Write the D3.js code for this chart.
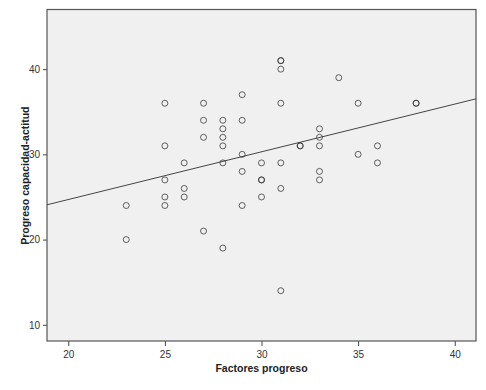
<!DOCTYPE html>
<html>
<head>
<meta charset="utf-8">
<script src="https://cdn.jsdelivr.net/npm/d3@7"></script>
<style>
  body { margin: 0; background: #fff; }
  svg { display: block; font-family: "Liberation Sans", Arial, sans-serif; }
</style>
</head>
<body>
<div id="wrapper"></div>
<script>
// Factores progreso (x) vs Progreso capacidad-actitud (y)
const factores = [23, 23, 25, 25, 25, 25, 25, 26, 26, 26, 27, 27, 27, 27,
  28, 28, 28, 28, 28, 28, 29, 29, 29, 29, 29, 30, 30, 30, 30,
  31, 31, 31, 31, 31, 31, 31, 32, 32, 33, 33, 33, 33, 33, 34, 35, 35, 36, 36, 38, 38]
const progreso = [24, 20, 36, 31, 27, 25, 24, 29, 26, 25, 36, 34, 32, 21,
  34, 33, 32, 31, 29, 19, 37, 34, 30, 28, 24, 29, 27, 27, 25,
  41, 41, 40, 36, 29, 26, 14, 31, 31, 33, 32, 31, 28, 27, 39, 36, 30, 31, 29, 36, 36]
const xTicks = [20, 25, 30, 35, 40]
const yTicks = [10, 20, 30, 40]
// linear fit line
const fitIntercept = 13.5
const fitSlope = 0.56

const dimensions = {
  width: 486,
  height: 390,
  margin: { top: 9.5, right: 10, bottom: 49, left: 47 }
}
dimensions.boundedWidth = dimensions.width - dimensions.margin.left - dimensions.margin.right
dimensions.boundedHeight = dimensions.height - dimensions.margin.top - dimensions.margin.bottom

const wrapper = d3.select("#wrapper")
  .append("svg")
    .attr("width", dimensions.width)
    .attr("height", dimensions.height)

const bounds = wrapper.append("g")
  .attr("transform", `translate(${dimensions.margin.left},${dimensions.margin.top})`)

const xScale = d3.scaleLinear()
  .domain([18.9, 41.1])
  .range([0, dimensions.boundedWidth])

const yScale = d3.scaleLinear()
  .domain([8.1, 47])
  .range([dimensions.boundedHeight, 0])

bounds.append("rect")
  .attr("width", dimensions.boundedWidth)
  .attr("height", dimensions.boundedHeight)
  .attr("fill", "#f0f0f0")

// axes
const xAxis = bounds.append("g")
  .attr("transform", `translate(0,${dimensions.boundedHeight})`)
  .call(d3.axisBottom(xScale).tickValues(xTicks).tickSize(5).tickSizeOuter(0))
const yAxis = bounds.append("g")
  .call(d3.axisLeft(yScale).tickValues(yTicks).tickSize(4).tickSizeOuter(0))

for (const ax of [xAxis, yAxis]) {
  ax.select(".domain").remove()
  ax.selectAll("line").attr("stroke", "#444")
  ax.selectAll("text")
    .attr("fill", "#333")
    .style("font-size", "10px")
}
xAxis.selectAll("text").attr("dy", "0.9em")

// frame
bounds.append("rect")
  .attr("width", dimensions.boundedWidth)
  .attr("height", dimensions.boundedHeight)
  .attr("fill", "none")
  .attr("stroke", "#555")
  .attr("stroke-width", 1.2)

// fit line
const clip = bounds.append("clipPath").attr("id", "plot-clip")
  .append("rect")
    .attr("width", dimensions.boundedWidth)
    .attr("height", dimensions.boundedHeight)

const [x0, x1] = xScale.domain()
bounds.append("line")
  .attr("clip-path", "url(#plot-clip)")
  .attr("x1", xScale(x0))
  .attr("y1", yScale(fitIntercept + fitSlope * x0))
  .attr("x2", xScale(x1))
  .attr("y2", yScale(fitIntercept + fitSlope * x1))
  .attr("stroke", "#444")
  .attr("stroke-width", 1)

// points
bounds.selectAll("circle.pt")
  .data(factores.map((f, i) => [f, progreso[i]]))
  .join("circle")
    .attr("class", "pt")
    .attr("cx", d => xScale(d[0]))
    .attr("cy", d => yScale(d[1]))
    .attr("r", 3)
    .attr("fill", "none")
    .attr("stroke", "#333")
    .attr("stroke-width", 0.9)
    .attr("stroke-opacity", 0.85)

// axis titles
wrapper.append("text")
  .attr("x", dimensions.margin.left + xScale(30))
  .attr("y", 372)
  .attr("text-anchor", "middle")
  .style("font-size", "10.5px")
  .style("font-weight", "bold")
  .attr("fill", "#222")
  .text("Factores progreso")

wrapper.append("text")
  .attr("transform", `translate(29,${dimensions.margin.top + yScale(27.5)}) rotate(-90)`)
  .attr("text-anchor", "middle")
  .style("font-size", "10.5px")
  .style("font-weight", "bold")
  .attr("fill", "#222")
  .text("Progreso capacidad-actitud")
</script>
</body>
</html>
